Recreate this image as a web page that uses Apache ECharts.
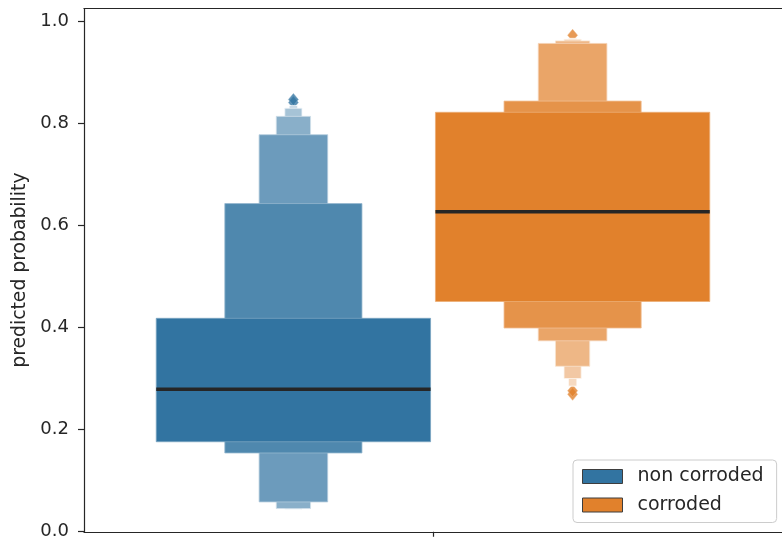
<!DOCTYPE html>
<html>
<head>
<meta charset="utf-8">
<script src="https://cdn.jsdelivr.net/npm/echarts@6/dist/echarts.min.js"></script>
<style>
  html, body { margin: 0; padding: 0; background: #ffffff; }
  #chart { width: 782px; height: 540px; }
</style>
</head>
<body>
<div id="chart"></div>
<script>
// Letter-value (boxen) plot of predicted probability, split by corrosion state.
const categories = ['non corroded', 'corroded'];
const baseColors = ['#3274a1', '#e1812c'];

// Letter-value box ends [lower, upper], from the quartile box outwards.
const nonCorrodedLevels = [
  [0.175, 0.417],
  [0.153, 0.642],
  [0.057, 0.777],
  [0.044, 0.813],
  [0.043, 0.829],
  [0.043, 0.834]
];
const corrodedLevels = [
  [0.450, 0.821],
  [0.398, 0.843],
  [0.373, 0.956],
  [0.323, 0.961],
  [0.299, 0.964],
  [0.284, 0.966]
];
const medians = [0.278, 0.626];
const nonCorrodedOutliers = [0.840, 0.846];
const corrodedOutliers = [0.268, 0.275, 0.972];
const yTicks = [0, 0.2, 0.4, 0.6, 0.8, 1.0];

const levelSets = [nonCorrodedLevels, corrodedLevels];
const outlierSets = [nonCorrodedOutliers, corrodedOutliers];

const BOX_WIDTH = 0.393;   // width of the quartile box in x-axis units
const HUE_STEP = 0.4;      // distance between dodged hue groups
const LIGHTEN_STEP = 0.85 / 6;
const FONT = 'DejaVu Sans';
const TEXT_COLOR = '#262626';

function mixWithWhite(hex, t) {
  const n = parseInt(hex.slice(1), 16);
  const r = (n >> 16) & 255, g = (n >> 8) & 255, b = n & 255;
  const m = v => Math.round(v + (255 - v) * t);
  return 'rgb(' + m(r) + ',' + m(g) + ',' + m(b) + ')';
}

function hueCenter(i) {
  return (i - (categories.length - 1) / 2) * HUE_STEP;
}

const series = [];
categories.forEach((name, i) => {
  const center = hueCenter(i);
  const color = baseColors[i];
  const levels = levelSets[i];
  // narrowest boxes first so the wider, darker ones sit on top
  const boxData = levels.map((lv, k) => [center, lv[0], lv[1], k]).reverse();
  series.push({
    name: name,
    type: 'custom',
    z: 3,
    itemStyle: { color: color },
    data: boxData,
    encode: { x: 0, y: [1, 2] },
    renderItem: function (params, api) {
      const c = api.value(0), lo = api.value(1), hi = api.value(2), k = api.value(3);
      const w = BOX_WIDTH * Math.pow(0.5, k);
      const p1 = api.coord([c - w / 2, hi]);
      const p2 = api.coord([c + w / 2, lo]);
      const fill = mixWithWhite(color, k * LIGHTEN_STEP);
      return {
        type: 'rect',
        shape: { x: p1[0], y: p1[1], width: p2[0] - p1[0], height: p2[1] - p1[1] },
        style: {
          fill: fill,
          stroke: mixWithWhite(color, Math.min(1, k * LIGHTEN_STEP + 0.35)),
          lineWidth: 0.8
        }
      };
    }
  });
  series.push({
    name: name,
    type: 'custom',
    z: 4,
    itemStyle: { color: color },
    data: [[center, medians[i]]],
    encode: { x: 0, y: 1 },
    renderItem: function (params, api) {
      const c = api.value(0), m = api.value(1);
      const a = api.coord([c - BOX_WIDTH / 2, m]);
      const b = api.coord([c + BOX_WIDTH / 2, m]);
      return {
        type: 'line',
        shape: { x1: a[0], y1: a[1], x2: b[0], y2: b[1] },
        style: { stroke: '#262626', lineWidth: 3.4 }
      };
    }
  });
  series.push({
    name: name + ' outliers',
    type: 'scatter',
    z: 2,
    symbol: 'diamond',
    symbolSize: [10, 12],
    itemStyle: { color: color, borderColor: mixWithWhite(color, 0.4), borderWidth: 0.6 },
    data: outlierSets[i].map(v => [center, v])
  });
});

const chart = echarts.init(document.getElementById('chart'), null, { renderer: 'canvas' });
chart.setOption({
  animation: false,
  backgroundColor: '#ffffff',
  grid: { left: 84, right: -2, top: 8.5, bottom: 7 },
  legend: {
    data: categories,
    orient: 'vertical',
    left: 573,
    top: 460,
    icon: 'rect',
    itemWidth: 40,
    itemHeight: 14,
    itemGap: 9.5,
    padding: [7, 13, 8, 9],
    backgroundColor: '#ffffff',
    borderColor: '#cccccc',
    borderWidth: 1,
    borderRadius: 4,
    itemStyle: { borderColor: '#3d3d3d', borderWidth: 1 },
    textStyle: { fontFamily: FONT, fontSize: 19, color: TEXT_COLOR, padding: [0, 0, 0, 10] }
  },
  xAxis: [
    {
      type: 'value',
      min: -0.5,
      max: 0.5,
      position: 'bottom',
      splitLine: { show: false },
      axisLabel: { show: false },
      axisLine: { show: true, onZero: false, lineStyle: { color: '#262626', width: 1.2 } },
      axisTick: { show: true, customValues: [0], length: 5, lineStyle: { color: '#262626', width: 1.2 } }
    },
    {
      type: 'value',
      min: -0.5,
      max: 0.5,
      position: 'top',
      splitLine: { show: false },
      axisLabel: { show: false },
      axisTick: { show: false },
      axisLine: { show: true, onZero: false, lineStyle: { color: '#262626', width: 1.2 } }
    }
  ],
  yAxis: {
    type: 'value',
    min: -0.0015,
    max: 1.0245,
    name: 'predicted probability',
    nameLocation: 'middle',
    nameRotate: 90,
    nameGap: 54,
    nameTextStyle: { fontFamily: FONT, fontSize: 18.8, color: TEXT_COLOR },
    splitLine: { show: false },
    axisLine: { show: true, onZero: false, lineStyle: { color: '#262626', width: 1.2 } },
    axisTick: { show: true, customValues: yTicks, length: 6, lineStyle: { color: '#262626', width: 1.2 } },
    axisLabel: {
      customValues: yTicks,
      margin: 15,
      fontFamily: FONT,
      fontSize: 18,
      color: TEXT_COLOR,
      formatter: v => v.toFixed(1)
    }
  },
  series: series
});
</script>
</body>
</html>
